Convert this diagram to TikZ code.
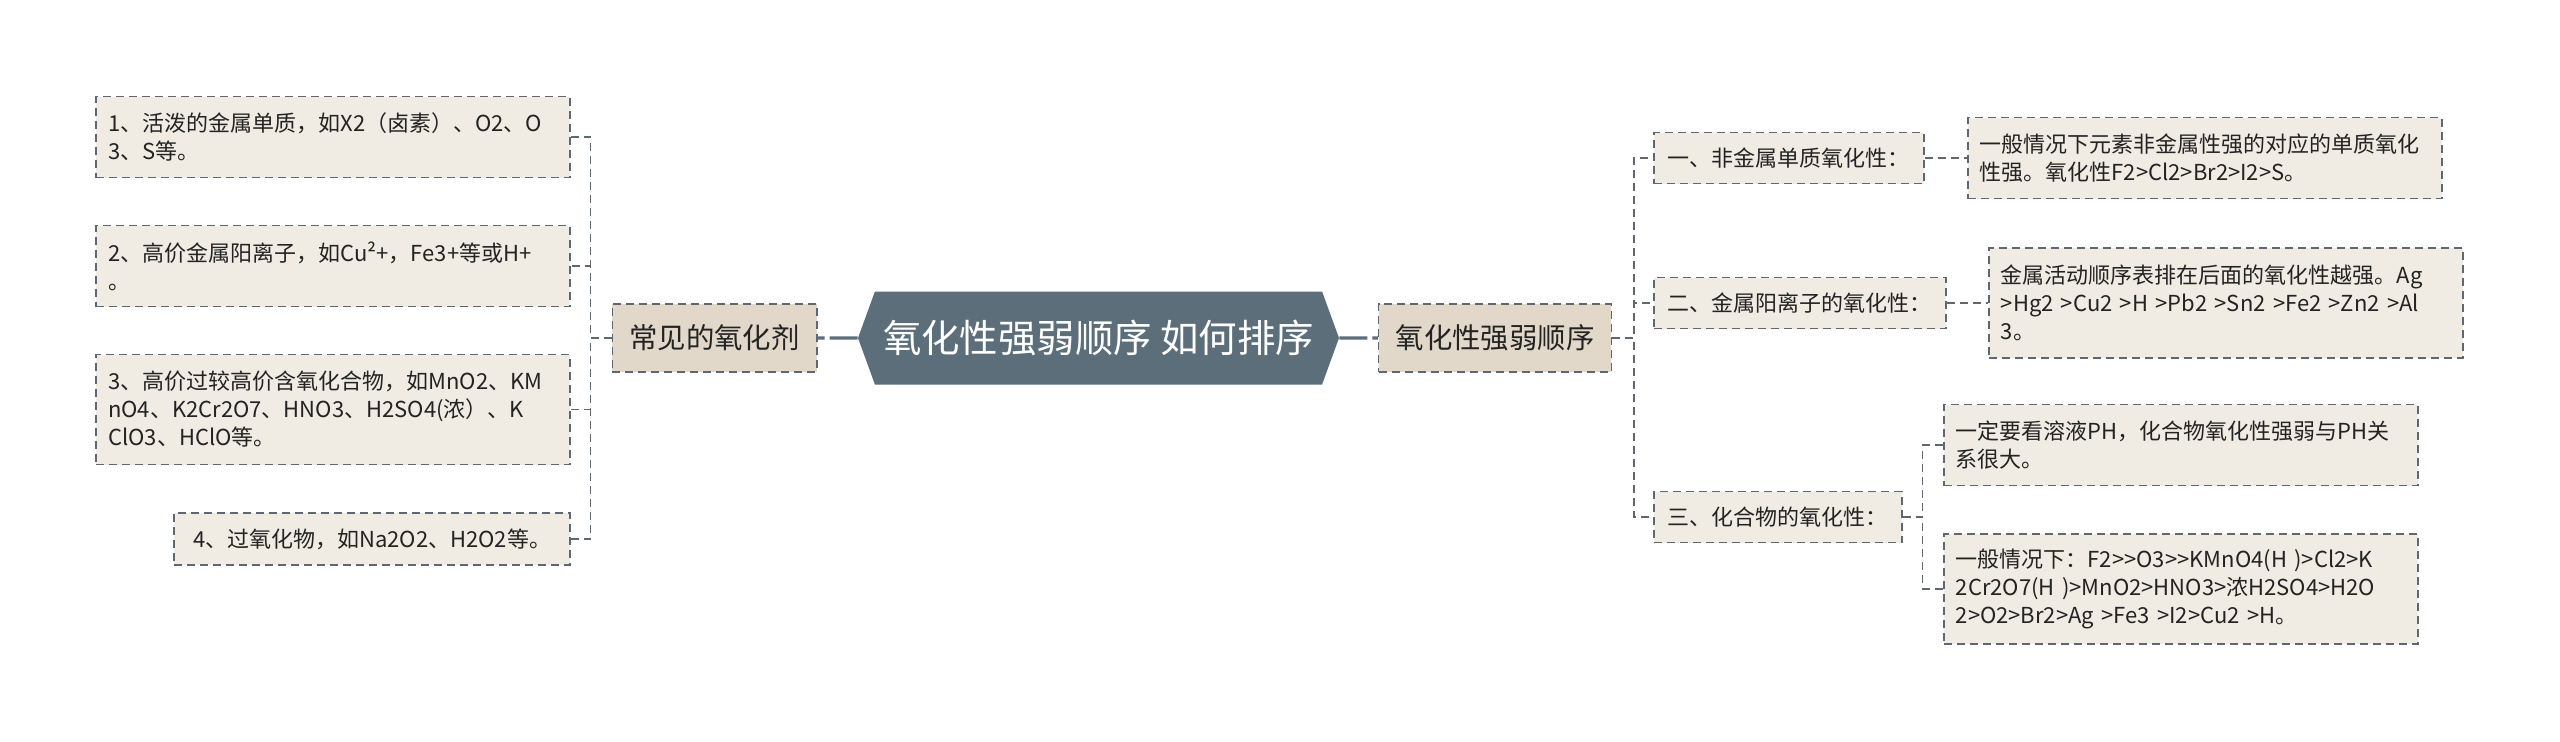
\documentclass[tikz,border=0pt]{standalone}
\usepackage{fontspec}
\setmainfont{Noto Sans CJK SC}[Ligatures=TeXOff]
\usepackage{tikz}
\usetikzlibrary{positioning,shapes.symbols}
\definecolor{slate}{RGB}{91,110,122}
\definecolor{edgegray}{RGB}{95,104,112}
\definecolor{sand}{RGB}{225,216,201}
\definecolor{paper}{RGB}{240,236,228}
\definecolor{ink}{RGB}{35,35,35}

\begin{document}
\begin{tikzpicture}[x=0.5pt,y=-0.5pt,
  box/.style={draw=edgegray, line width=0.8pt, dash pattern=on 4pt off 2.5pt,
    fill=paper, text=ink, font=\fontsize{11pt}{14pt}\selectfont, inner xsep=6pt, inner ysep=0pt},
  leaf/.style={box, align=left, text width=225pt},
  sub/.style={box, inner xsep=7pt, minimum height=25.5pt},
  main/.style={box, fill=sand, font=\fontsize{14.2pt}{17pt}\selectfont, inner xsep=8.5pt, minimum height=34pt},
  root/.style={signal, signal to=west and east, signal pointer angle=140, fill=slate, text=white,
    font=\fontsize{19.2pt}{22pt}\selectfont, minimum width=240.5pt, minimum height=46.5pt, inner xsep=4pt},
  link/.style={draw=edgegray, line width=0.8pt, dash pattern=on 4pt off 2.5pt},
  trunk/.style={draw=slate, line width=1.6pt, dash pattern=on 14pt off 2.5pt}]
\useasboundingbox (0,0) rectangle (2560,741);

% centre
\node[root] (root) at (1098.5,338) {氧化性强弱顺序 如何排序};

% left branch
\node[main] (agent) at (714.5,338) {常见的氧化剂};
\node[leaf, anchor=east, minimum height=40.5pt] (a1) at (571,137) {1、活泼的金属单质，如X2（卤素）、O2、O\\3、S等。};
\node[leaf, anchor=east, minimum height=40.5pt] (a2) at (571,266) {2、高价金属阳离子，如Cu²+，Fe3+等或H+\\。};
\node[leaf, anchor=east, minimum height=55pt] (a3) at (571,409.5) {3、高价过较高价含氧化合物，如MnO2、KM\\nO4、K2Cr2O7、HNO3、H2SO4(浓）、K\\ClO3、HClO等。};
\node[box, anchor=east, minimum height=26pt, minimum width=198pt] (a4) at (571,539) {4、过氧化物，如Na2O2、H2O2等。};

% right branch
\node[main] (ox) at (1495,338) {氧化性强弱顺序};
\node[sub, anchor=west] (c1) at (1653,158) {一、非金属单质氧化性：};
\node[sub, anchor=west] (c2) at (1653,303) {二、金属阳离子的氧化性：};
\node[sub, anchor=west] (c3) at (1653,517) {三、化合物的氧化性：};
\node[leaf, anchor=west, minimum height=40.5pt] (r1) at (1967,158) {一般情况下元素非金属性强的对应的单质氧化\\性强。氧化性F2>Cl2>Br2>I2>S。};
\node[leaf, anchor=west, minimum height=55pt] (r2) at (1988,303) {金属活动顺序表排在后面的氧化性越强。Ag\\>Hg2 >Cu2 >H >Pb2 >Sn2 >Fe2 >Zn2 >Al\\3。};
\node[leaf, anchor=west, minimum height=40.5pt] (r3a) at (1943,445) {一定要看溶液PH，化合物氧化性强弱与PH关\\系很大。};
\node[leaf, anchor=west, minimum height=55pt] (r3b) at (1943,589) {一般情况下：F2>>O3>>KMnO4(H )>Cl2>K\\2Cr2O7(H )>MnO2>HNO3>浓H2SO4>H2O\\2>O2>Br2>Ag >Fe3 >I2>Cu2 >H。};

% connectors
\draw[trunk] (root) -- (agent);
\draw[trunk] (root) -- (ox);
\foreach \n in {a1,a2,a3,a4}
  \draw[link] (agent.west) -- ++(-21,0) |- (\n.east);
\foreach \n in {c1,c2,c3}
  \draw[link] (ox.east) -- ++(22,0) |- (\n.west);
\draw[link] (c1) -- (r1);
\draw[link] (c2) -- (r2);
\foreach \n in {r3a,r3b}
  \draw[link] (c3.east) -- ++(20,0) |- (\n.west);
\end{tikzpicture}
\end{document}
